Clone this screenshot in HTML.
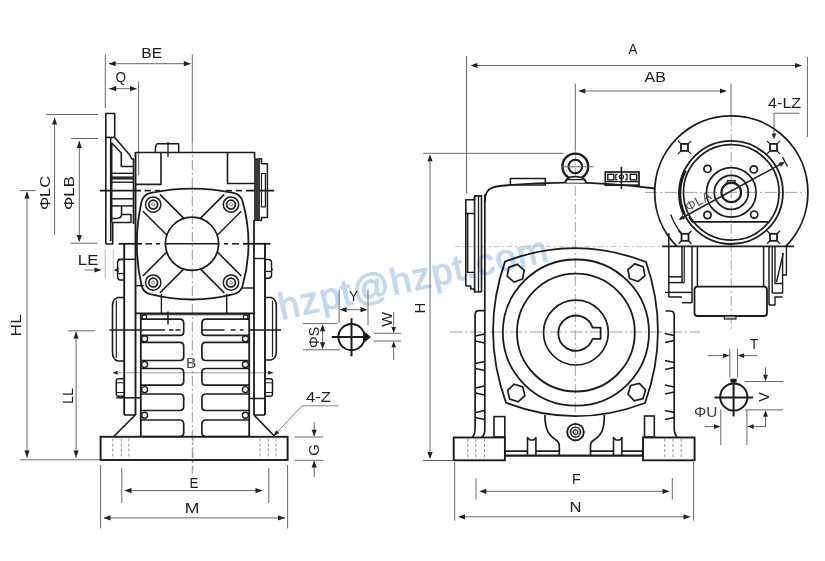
<!DOCTYPE html>
<html><head><meta charset="utf-8"><style>
html,body{margin:0;padding:0;background:#fff;}
svg{display:block;will-change:transform;}
text{font-family:"Liberation Sans", sans-serif;}
</style></head><body>
<svg width="825" height="561" viewBox="0 0 825 561">
<rect width="825" height="561" fill="#ffffff"/>
<text x="281.5" y="319.8" font-size="37" fill="#c2d9f2" stroke="#c2d9f2" stroke-width="1.2" stroke-linejoin="round" textLength="274.4" lengthAdjust="spacing" transform="rotate(-12.4 281.5 319.8)">hzpt@hzpt.com</text>
<line x1="105.3" y1="54.5" x2="105.3" y2="108" stroke="#686868" stroke-width="1.0" />
<line x1="192.3" y1="54.5" x2="192.3" y2="142" stroke="#686868" stroke-width="1.0" />
<line x1="109" y1="63.7" x2="190.5" y2="63.7" stroke="#686868" stroke-width="1.0" />
<path d="M108.60,63.70 L115.60,61.10 L115.60,66.30 Z" fill="#222"/>
<path d="M190.80,63.70 L183.80,66.30 L183.80,61.10 Z" fill="#222"/>
<text x="141.36" y="58.40" font-size="14.50" fill="#1e1e1e" textLength="20.73" lengthAdjust="spacingAndGlyphs" >BE</text>
<line x1="138.6" y1="81.5" x2="138.6" y2="175" stroke="#686868" stroke-width="1.0" />
<line x1="109" y1="88.7" x2="136.5" y2="88.7" stroke="#686868" stroke-width="1.0" />
<path d="M109.20,88.70 L116.20,86.10 L116.20,91.30 Z" fill="#222"/>
<path d="M137.00,88.70 L130.00,91.30 L130.00,86.10 Z" fill="#222"/>
<text x="115.49" y="82.05" font-size="14.50" fill="#1e1e1e" textLength="10.56" lengthAdjust="spacingAndGlyphs" >Q</text>
<line x1="46.4" y1="114.5" x2="98" y2="114.5" stroke="#686868" stroke-width="1.0" />
<line x1="54.6" y1="118" x2="54.6" y2="234.7" stroke="#686868" stroke-width="1.0" />
<path d="M54.60,117.50 L57.20,124.50 L52.00,124.50 Z" fill="#222"/>
<line x1="71" y1="138.5" x2="98" y2="138.5" stroke="#686868" stroke-width="1.0" />
<line x1="79.3" y1="141" x2="79.3" y2="241" stroke="#686868" stroke-width="1.0" />
<path d="M79.30,141.00 L81.90,148.00 L76.70,148.00 Z" fill="#222"/>
<path d="M79.30,242.00 L76.70,235.00 L81.90,235.00 Z" fill="#222"/>
<line x1="70.8" y1="243.2" x2="97.3" y2="243.2" stroke="#686868" stroke-width="1.0" />
<text transform="translate(50.35 210.00) rotate(-90)" x="0" y="0" font-size="15.30" fill="#1e1e1e" textLength="34.08" lengthAdjust="spacingAndGlyphs" >ΦLC</text>
<text transform="translate(74.42 210.02) rotate(-90)" x="0" y="0" font-size="15.30" fill="#1e1e1e" textLength="33.88" lengthAdjust="spacingAndGlyphs" >ΦLB</text>
<text x="77.86" y="264.50" font-size="14.50" fill="#1e1e1e" textLength="20.46" lengthAdjust="spacingAndGlyphs" >LE</text>
<line x1="84.5" y1="270" x2="99" y2="270" stroke="#686868" stroke-width="1.0" />
<path d="M101.50,270.00 L94.50,272.60 L94.50,267.40 Z" fill="#222"/>
<line x1="105.2" y1="249.3" x2="105.2" y2="278" stroke="#aaa" stroke-width="0.9" />
<line x1="113.3" y1="249.3" x2="113.3" y2="278" stroke="#bbb" stroke-width="0.9" />
<path d="M113.60,270.00 L118.60,268.00 L118.60,272.00 Z" fill="#222"/>
<line x1="19.8" y1="190.6" x2="35.5" y2="190.6" stroke="#686868" stroke-width="1.0" />
<line x1="27" y1="192" x2="27" y2="458" stroke="#686868" stroke-width="1.0" />
<path d="M27.00,191.50 L29.60,198.50 L24.40,198.50 Z" fill="#222"/>
<path d="M27.00,457.50 L24.40,450.50 L29.60,450.50 Z" fill="#222"/>
<line x1="20.2" y1="459.8" x2="100" y2="459.8" stroke="#686868" stroke-width="1.0" />
<text transform="translate(20.90 336.39) rotate(-90)" x="0" y="0" font-size="15.30" fill="#1e1e1e" textLength="22.17" lengthAdjust="spacingAndGlyphs" >HL</text>
<line x1="67.6" y1="330.8" x2="94.7" y2="330.8" stroke="#686868" stroke-width="1.0" />
<line x1="76.1" y1="332" x2="76.1" y2="458" stroke="#686868" stroke-width="1.0" />
<path d="M76.10,331.50 L78.70,338.50 L73.50,338.50 Z" fill="#222"/>
<path d="M76.10,457.50 L73.50,450.50 L78.70,450.50 Z" fill="#222"/>
<text transform="translate(72.80 404.04) rotate(-90)" x="0" y="0" font-size="15.30" fill="#1e1e1e" textLength="15.91" lengthAdjust="spacingAndGlyphs" >LL</text>
<line x1="121.8" y1="468" x2="121.8" y2="503" stroke="#686868" stroke-width="1.0" />
<line x1="268.8" y1="468" x2="268.8" y2="503" stroke="#686868" stroke-width="1.0" />
<line x1="125" y1="490.6" x2="262" y2="490.6" stroke="#686868" stroke-width="1.0" />
<path d="M124.50,490.60 L131.50,488.00 L131.50,493.20 Z" fill="#222"/>
<path d="M262.50,490.60 L255.50,493.20 L255.50,488.00 Z" fill="#222"/>
<text x="189.53" y="488.40" font-size="14.50" fill="#1e1e1e" textLength="8.93" lengthAdjust="spacingAndGlyphs" >E</text>
<line x1="100.6" y1="465" x2="100.6" y2="528.5" stroke="#686868" stroke-width="1.0" />
<line x1="287.6" y1="465" x2="287.6" y2="528.5" stroke="#686868" stroke-width="1.0" />
<line x1="104" y1="517.9" x2="285" y2="517.9" stroke="#686868" stroke-width="1.0" />
<path d="M103.50,517.90 L110.50,515.30 L110.50,520.50 Z" fill="#222"/>
<path d="M285.00,517.90 L278.00,520.50 L278.00,515.30 Z" fill="#222"/>
<text x="184.69" y="513.40" font-size="14.50" fill="#1e1e1e" textLength="14.67" lengthAdjust="spacingAndGlyphs" >M</text>
<line x1="294.5" y1="437" x2="323.3" y2="437" stroke="#686868" stroke-width="1.0" />
<line x1="294.5" y1="460.3" x2="323.3" y2="460.3" stroke="#686868" stroke-width="1.0" />
<line x1="314.2" y1="422.4" x2="314.2" y2="436" stroke="#686868" stroke-width="1.0" />
<path d="M314.20,436.80 L311.60,429.80 L316.80,429.80 Z" fill="#222"/>
<line x1="314.2" y1="461" x2="314.2" y2="477" stroke="#686868" stroke-width="1.0" />
<path d="M314.20,460.60 L316.80,467.60 L311.60,467.60 Z" fill="#222"/>
<text transform="translate(318.75 455.75) rotate(-90)" x="0" y="0" font-size="15.30" fill="#1e1e1e" textLength="11.64" lengthAdjust="spacingAndGlyphs" >G</text>
<text x="305.98" y="402.10" font-size="14.50" fill="#1e1e1e" textLength="24.91" lengthAdjust="spacingAndGlyphs" >4-Z</text>
<line x1="302" y1="405.8" x2="338.5" y2="405.8" stroke="#686868" stroke-width="0.8" />
<line x1="302" y1="405.8" x2="275" y2="434.5" stroke="#686868" stroke-width="0.8" />
<path d="M273.50,436.00 L276.19,430.20 L279.30,433.31 Z" fill="#222"/>
<line x1="113" y1="372.8" x2="273" y2="372.8" stroke="#888" stroke-width="0.8" />
<path d="M112.60,372.80 L117.60,370.80 L117.60,374.80 Z" fill="#222"/>
<path d="M273.20,372.80 L268.20,374.80 L268.20,370.80 Z" fill="#222"/>
<text x="185.96" y="367.90" font-size="14.50" fill="#444" textLength="10.35" lengthAdjust="spacingAndGlyphs" >B</text>
<line x1="192.3" y1="142" x2="192.3" y2="474" stroke="#8a8a8a" stroke-width="0.9" stroke-dasharray="10 3 2 3"/>
<line x1="100" y1="190.6" x2="141" y2="190.6" stroke="#1c1c1c" stroke-width="1.8" />
<line x1="144.5" y1="190.6" x2="151" y2="190.6" stroke="#1c1c1c" stroke-width="1.6" />
<line x1="155" y1="190.6" x2="160" y2="190.6" stroke="#1c1c1c" stroke-width="1.6" />
<line x1="226" y1="190.6" x2="232" y2="190.6" stroke="#1c1c1c" stroke-width="1.6" />
<line x1="236" y1="190.6" x2="242" y2="190.6" stroke="#1c1c1c" stroke-width="1.6" />
<line x1="246" y1="190.6" x2="274.2" y2="190.6" stroke="#1c1c1c" stroke-width="1.8" />
<line x1="118.6" y1="243.8" x2="142" y2="243.8" stroke="#1c1c1c" stroke-width="1.8" />
<line x1="145.5" y1="243.8" x2="152" y2="243.8" stroke="#1c1c1c" stroke-width="1.5" />
<line x1="156" y1="243.8" x2="160" y2="243.8" stroke="#1c1c1c" stroke-width="1.5" />
<line x1="164.6" y1="243.8" x2="219.4" y2="243.8" stroke="#1c1c1c" stroke-width="1.6" />
<line x1="224" y1="243.8" x2="228" y2="243.8" stroke="#1c1c1c" stroke-width="1.5" />
<line x1="232" y1="243.8" x2="239" y2="243.8" stroke="#1c1c1c" stroke-width="1.5" />
<line x1="243" y1="243.8" x2="270.4" y2="243.8" stroke="#1c1c1c" stroke-width="1.8" />
<line x1="109.4" y1="330" x2="165" y2="330" stroke="#1c1c1c" stroke-width="1.5" />
<line x1="169" y1="330" x2="173.5" y2="330" stroke="#1c1c1c" stroke-width="1.5" />
<line x1="175.5" y1="330" x2="180.5" y2="330" stroke="#1c1c1c" stroke-width="1.5" />
<line x1="202" y1="330" x2="224.5" y2="330" stroke="#1c1c1c" stroke-width="1.5" />
<line x1="230.8" y1="330" x2="235.5" y2="330" stroke="#1c1c1c" stroke-width="1.5" />
<line x1="240" y1="330" x2="243.5" y2="330" stroke="#1c1c1c" stroke-width="1.5" />
<line x1="249.7" y1="330" x2="281" y2="330" stroke="#1c1c1c" stroke-width="1.5" />
<path d="M105.8,244 V113.5 H114.7 V137.5" stroke="#1c1c1c" stroke-width="1.6" fill="none" stroke-linejoin="round" />
<line x1="110.7" y1="137.5" x2="110.7" y2="241" stroke="#1c1c1c" stroke-width="1.6" />
<line x1="105.8" y1="137.4" x2="114.7" y2="137.4" stroke="#1c1c1c" stroke-width="1.6" />
<path d="M105.8,244 H112.7 V222" stroke="#1c1c1c" stroke-width="1.6" fill="none" stroke-linejoin="round" />
<line x1="111.7" y1="143" x2="111.7" y2="222" stroke="#1c1c1c" stroke-width="1.6" />
<path d="M114.7,137.5 L129.8,155 L131.8,159 L133.5,159 V224" stroke="#1c1c1c" stroke-width="1.6" fill="none" stroke-linejoin="round" />
<path d="M111.7,143 L121.3,153 V166.5 H133.5" stroke="#1c1c1c" stroke-width="1.6" fill="none" stroke-linejoin="round" />
<line x1="111.7" y1="173.3" x2="133.5" y2="173.3" stroke="#1c1c1c" stroke-width="1.4" />
<line x1="111.7" y1="178" x2="133.5" y2="178" stroke="#2a2a2a" stroke-width="3.2" />
<line x1="111.7" y1="182.2" x2="133.5" y2="182.2" stroke="#1c1c1c" stroke-width="1.4" />
<line x1="111.7" y1="198.8" x2="133.5" y2="198.8" stroke="#1c1c1c" stroke-width="1.5" />
<line x1="111.7" y1="205.9" x2="133.5" y2="205.9" stroke="#1c1c1c" stroke-width="1.5" />
<path d="M121.5,206 V214.5 H131 V222.6 H111.7" stroke="#1c1c1c" stroke-width="1.5" fill="none" stroke-linejoin="round" />
<path d="M121.5,214.5 Q121.5,218.4 116.5,218.4 H111.7" stroke="#1c1c1c" stroke-width="1.5" fill="none" stroke-linejoin="round" />
<line x1="135.5" y1="152" x2="135.5" y2="415" stroke="#1c1c1c" stroke-width="1.9" />
<path d="M135.5,152.5 H254.6 V158.8" stroke="#1c1c1c" stroke-width="1.6" fill="none" stroke-linejoin="round" />
<path d="M161,152.5 V184.4 H135.5" stroke="#1c1c1c" stroke-width="1.6" fill="none" stroke-linejoin="round" />
<path d="M227.5,152.5 V183.5 H254.6" stroke="#1c1c1c" stroke-width="1.6" fill="none" stroke-linejoin="round" />
<rect x="254.6" y="158.8" width="4.9" height="61.8" rx="0" stroke="#1c1c1c" stroke-width="0.8" fill="#3a3a3a"/>
<path d="M259.5,158.8 H261.5 V163.7 H267.4 V217.6 H261.5 V220.6 H259.5" stroke="#1c1c1c" stroke-width="1.5" fill="none" stroke-linejoin="round" />
<rect x="261.5" y="173.5" width="3.9" height="33.4" rx="0" stroke="#1c1c1c" stroke-width="1.2" fill="none"/>
<path d="M157,143.7 H178.7 V152.5 M157,143.7 Q155,146 155.5,152.5" stroke="#1c1c1c" stroke-width="1.5" fill="none" stroke-linejoin="round" />
<line x1="168" y1="142" x2="168" y2="157" stroke="#1c1c1c" stroke-width="1.3" />
<line x1="254" y1="220" x2="254" y2="415" stroke="#1c1c1c" stroke-width="1.8" />
<path d="M150.78,192.85 Q192.10,184.35 233.42,192.85 A12,12 0 0 1 242.55,201.35 Q254.45,243.60 242.55,285.85 A12,12 0 0 1 233.93,294.24 Q192.10,304.76 150.27,294.24 A12,12 0 0 1 141.49,285.24 Q132.11,243.60 141.49,201.96 A12,12 0 0 1 150.78,192.85 Z" stroke="#1c1c1c" stroke-width="1.8" fill="none" stroke-linejoin="round" />
<circle cx="192" cy="243.8" r="26.6" stroke="#1c1c1c" stroke-width="1.7" fill="none"/>
<circle cx="153.2" cy="204.6" r="7.7" stroke="#1c1c1c" stroke-width="1.5" fill="none"/>
<circle cx="153.2" cy="204.6" r="4.4" stroke="#1c1c1c" stroke-width="1.7" fill="none"/>
<circle cx="153.2" cy="204.6" r="1.6" stroke="#666" stroke-width="0.8" fill="none"/>
<line x1="142.95" y1="211.32" x2="167.2" y2="235.57" stroke="#1c1c1c" stroke-width="1.5" />
<line x1="159.92" y1="194.35" x2="184.17" y2="218.6" stroke="#1c1c1c" stroke-width="1.5" />
<circle cx="231" cy="204.6" r="7.7" stroke="#1c1c1c" stroke-width="1.5" fill="none"/>
<circle cx="231" cy="204.6" r="4.4" stroke="#1c1c1c" stroke-width="1.7" fill="none"/>
<circle cx="231" cy="204.6" r="1.6" stroke="#666" stroke-width="0.8" fill="none"/>
<line x1="224.28" y1="194.35" x2="200.03" y2="218.6" stroke="#1c1c1c" stroke-width="1.5" />
<line x1="241.25" y1="211.32" x2="217.0" y2="235.57" stroke="#1c1c1c" stroke-width="1.5" />
<circle cx="153.2" cy="282.6" r="7.7" stroke="#1c1c1c" stroke-width="1.5" fill="none"/>
<circle cx="153.2" cy="282.6" r="4.4" stroke="#1c1c1c" stroke-width="1.7" fill="none"/>
<circle cx="153.2" cy="282.6" r="1.6" stroke="#666" stroke-width="0.8" fill="none"/>
<line x1="159.92" y1="292.85" x2="184.17" y2="268.6" stroke="#1c1c1c" stroke-width="1.5" />
<line x1="142.95" y1="275.88" x2="167.2" y2="251.63" stroke="#1c1c1c" stroke-width="1.5" />
<circle cx="231" cy="282.6" r="7.7" stroke="#1c1c1c" stroke-width="1.5" fill="none"/>
<circle cx="231" cy="282.6" r="4.4" stroke="#1c1c1c" stroke-width="1.7" fill="none"/>
<circle cx="231" cy="282.6" r="1.6" stroke="#666" stroke-width="0.8" fill="none"/>
<line x1="241.25" y1="275.88" x2="217.0" y2="251.63" stroke="#1c1c1c" stroke-width="1.5" />
<line x1="224.28" y1="292.85" x2="200.03" y2="268.6" stroke="#1c1c1c" stroke-width="1.5" />
<path d="M124.3,259.6 H120.5 Q117.6,259.6 117.6,263 V267.5 Q117.6,270 116.8,270 Q117.6,270 117.6,272.5 V277 Q117.6,280 120.5,280 H124.3" stroke="#1c1c1c" stroke-width="1.5" fill="none" stroke-linejoin="round" />
<line x1="117.6" y1="273.5" x2="124.3" y2="273.5" stroke="#1c1c1c" stroke-width="1.3" />
<line x1="117.9" y1="259.3" x2="135.5" y2="259.3" stroke="#1c1c1c" stroke-width="1.4" />
<line x1="124.2" y1="243.8" x2="124.2" y2="415" stroke="#1c1c1c" stroke-width="1.9" />
<line x1="135.5" y1="285.7" x2="143.6" y2="285.7" stroke="#1c1c1c" stroke-width="1.4" />
<line x1="161.4" y1="294" x2="161.4" y2="313.3" stroke="#1c1c1c" stroke-width="1.4" />
<line x1="226.7" y1="294" x2="226.7" y2="313.3" stroke="#1c1c1c" stroke-width="1.4" />
<line x1="242" y1="288" x2="254" y2="288" stroke="#1c1c1c" stroke-width="1.4" />
<line x1="135.5" y1="313.3" x2="254" y2="313.3" stroke="#1c1c1c" stroke-width="1.7" />
<line x1="124.2" y1="415" x2="135.5" y2="415" stroke="#1c1c1c" stroke-width="1.6" />
<line x1="265" y1="243.8" x2="265" y2="415" stroke="#1c1c1c" stroke-width="1.9" />
<line x1="254" y1="258.5" x2="265" y2="258.5" stroke="#1c1c1c" stroke-width="1.4" />
<path d="M265,259.4 H268.5 Q271.5,259.4 271.5,263 V267.5 Q271.5,269.5 272.3,269.5 Q271.5,269.5 271.5,271.5 V275 Q271.5,278.2 268.5,278.2 H265" stroke="#1c1c1c" stroke-width="1.5" fill="none" stroke-linejoin="round" />
<line x1="265" y1="271.4" x2="271.5" y2="271.4" stroke="#1c1c1c" stroke-width="1.3" />
<line x1="254" y1="415" x2="265" y2="415" stroke="#1c1c1c" stroke-width="1.6" />
<path d="M124.2,297.5 H118 Q112.5,299 112.5,306 V352 Q112.5,359.5 118,361 H124.2" stroke="#1c1c1c" stroke-width="1.6" fill="none" stroke-linejoin="round" />
<line x1="116.3" y1="300.5" x2="116.3" y2="358" stroke="#1c1c1c" stroke-width="1.2" />
<path d="M265,297.5 H271 Q276.3,299 276.3,306 V352 Q276.3,358.5 271,360 H265" stroke="#1c1c1c" stroke-width="1.6" fill="none" stroke-linejoin="round" />
<line x1="272.5" y1="300.5" x2="272.5" y2="357" stroke="#1c1c1c" stroke-width="1.2" />
<path d="M124.2,378.8 H118.5 Q116.3,378.8 116.3,381 V394 Q116.3,396.3 118.5,396.3 H124.2" stroke="#1c1c1c" stroke-width="1.5" fill="none" stroke-linejoin="round" />
<line x1="116.3" y1="382.8" x2="124.2" y2="382.8" stroke="#1c1c1c" stroke-width="1.0" />
<line x1="116.3" y1="392.5" x2="124.2" y2="392.5" stroke="#1c1c1c" stroke-width="1.0" />
<path d="M265,378.8 H270.3 Q272.5,378.8 272.5,381 V394 Q272.5,396.3 270.3,396.3 H265" stroke="#1c1c1c" stroke-width="1.5" fill="none" stroke-linejoin="round" />
<line x1="265" y1="382.8" x2="272.5" y2="382.8" stroke="#1c1c1c" stroke-width="1.0" />
<line x1="265" y1="392.5" x2="272.5" y2="392.5" stroke="#1c1c1c" stroke-width="1.0" />
<line x1="116.3" y1="397.8" x2="140.8" y2="397.8" stroke="#1c1c1c" stroke-width="1.5" />
<line x1="249.2" y1="398.5" x2="265" y2="398.5" stroke="#1c1c1c" stroke-width="1.5" />
<line x1="140.8" y1="313.3" x2="140.8" y2="437" stroke="#1c1c1c" stroke-width="1.8" />
<line x1="249.2" y1="313.3" x2="249.2" y2="437" stroke="#1c1c1c" stroke-width="1.8" />
<line x1="140.8" y1="314.8" x2="249.2" y2="314.8" stroke="#1c1c1c" stroke-width="1.1" />
<circle cx="144.4" cy="317.2" r="2.3" stroke="#1c1c1c" stroke-width="1.2" fill="none"/>
<circle cx="245.6" cy="317.2" r="2.3" stroke="#1c1c1c" stroke-width="1.2" fill="none"/>
<path d="M140.8,319.2 H179.7 Q183.7,319.2 183.7,323.2 V331.4 Q183.7,335.4 179.7,335.4 H140.8" stroke="#1c1c1c" stroke-width="1.7" fill="none" stroke-linejoin="round" />
<path d="M249.2,319.2 H205.9 Q201.9,319.2 201.9,323.2 V331.4 Q201.9,335.4 205.9,335.4 H249.2" stroke="#1c1c1c" stroke-width="1.7" fill="none" stroke-linejoin="round" />
<path d="M140.8,342.3 H179.7 Q183.7,342.3 183.7,346.3 V356.5 Q183.7,360.5 179.7,360.5 H140.8" stroke="#1c1c1c" stroke-width="1.7" fill="none" stroke-linejoin="round" />
<path d="M249.2,342.3 H205.9 Q201.9,342.3 201.9,346.3 V356.5 Q201.9,360.5 205.9,360.5 H249.2" stroke="#1c1c1c" stroke-width="1.7" fill="none" stroke-linejoin="round" />
<path d="M140.8,368.5 H179.7 Q183.7,368.5 183.7,372.5 V381.2 Q183.7,385.2 179.7,385.2 H140.8" stroke="#1c1c1c" stroke-width="1.7" fill="none" stroke-linejoin="round" />
<path d="M249.2,368.5 H205.9 Q201.9,368.5 201.9,372.5 V381.2 Q201.9,385.2 205.9,385.2 H249.2" stroke="#1c1c1c" stroke-width="1.7" fill="none" stroke-linejoin="round" />
<path d="M140.8,394 H179.7 Q183.7,394 183.7,398 V406.5 Q183.7,410.5 179.7,410.5 H140.8" stroke="#1c1c1c" stroke-width="1.7" fill="none" stroke-linejoin="round" />
<path d="M249.2,394 H205.9 Q201.9,394 201.9,398 V406.5 Q201.9,410.5 205.9,410.5 H249.2" stroke="#1c1c1c" stroke-width="1.7" fill="none" stroke-linejoin="round" />
<path d="M140.8,420 H179.7 Q183.7,420 183.7,424 V432.5 Q183.7,436.5 179.7,436.5 H140.8" stroke="#1c1c1c" stroke-width="1.7" fill="none" stroke-linejoin="round" />
<path d="M249.2,420 H205.9 Q201.9,420 201.9,424 V432.5 Q201.9,436.5 205.9,436.5 H249.2" stroke="#1c1c1c" stroke-width="1.7" fill="none" stroke-linejoin="round" />
<circle cx="144.6" cy="338.7" r="3.0" stroke="#1c1c1c" stroke-width="1.4" fill="none"/>
<circle cx="245.4" cy="338.7" r="3.0" stroke="#1c1c1c" stroke-width="1.4" fill="none"/>
<circle cx="144.6" cy="364.5" r="3.0" stroke="#1c1c1c" stroke-width="1.4" fill="none"/>
<circle cx="245.4" cy="364.5" r="3.0" stroke="#1c1c1c" stroke-width="1.4" fill="none"/>
<circle cx="144.6" cy="389.6" r="3.0" stroke="#1c1c1c" stroke-width="1.4" fill="none"/>
<circle cx="245.4" cy="389.6" r="3.0" stroke="#1c1c1c" stroke-width="1.4" fill="none"/>
<circle cx="144.6" cy="415.2" r="3.0" stroke="#1c1c1c" stroke-width="1.4" fill="none"/>
<circle cx="245.4" cy="415.2" r="3.0" stroke="#1c1c1c" stroke-width="1.4" fill="none"/>
<line x1="168" y1="311.5" x2="168" y2="324.5" stroke="#1c1c1c" stroke-width="1.4" />
<line x1="135.2" y1="415" x2="113.7" y2="436.5" stroke="#1c1c1c" stroke-width="1.7" />
<line x1="254" y1="415" x2="274.8" y2="436.5" stroke="#1c1c1c" stroke-width="1.7" />
<rect x="100.6" y="436.8" width="187" height="23.2" rx="0" stroke="#1c1c1c" stroke-width="1.9" fill="none"/>
<line x1="112.8" y1="438.5" x2="112.8" y2="458.5" stroke="#888" stroke-width="0.9" stroke-dasharray="3 2"/>
<line x1="121.3" y1="438.5" x2="121.3" y2="458.5" stroke="#888" stroke-width="0.9" stroke-dasharray="3 2"/>
<line x1="128.9" y1="438.5" x2="128.9" y2="458.5" stroke="#888" stroke-width="0.9" stroke-dasharray="3 2"/>
<line x1="260" y1="438.5" x2="260" y2="458.5" stroke="#888" stroke-width="0.9" stroke-dasharray="3 2"/>
<line x1="268.3" y1="438.5" x2="268.3" y2="458.5" stroke="#888" stroke-width="0.9" stroke-dasharray="3 2"/>
<line x1="276" y1="438.5" x2="276" y2="458.5" stroke="#888" stroke-width="0.9" stroke-dasharray="3 2"/>
<line x1="193" y1="438" x2="193" y2="470" stroke="#888" stroke-width="0.8" stroke-dasharray="6 3 2 3"/>
<line x1="339.1" y1="289.6" x2="339.1" y2="323.3" stroke="#686868" stroke-width="1.0" />
<line x1="368" y1="289.6" x2="368" y2="325" stroke="#686868" stroke-width="1.0" />
<line x1="343" y1="309.7" x2="364" y2="309.7" stroke="#686868" stroke-width="1.0" />
<path d="M339.60,309.70 L346.60,307.10 L346.60,312.30 Z" fill="#222"/>
<path d="M367.50,309.70 L360.50,312.30 L360.50,307.10 Z" fill="#222"/>
<text x="348.96" y="300.60" font-size="14.50" fill="#1e1e1e" textLength="9.14" lengthAdjust="spacingAndGlyphs" >Y</text>
<line x1="303" y1="323.6" x2="337.5" y2="323.6" stroke="#686868" stroke-width="1.0" />
<line x1="303" y1="349.8" x2="340" y2="349.8" stroke="#686868" stroke-width="1.0" />
<line x1="322.6" y1="326" x2="322.6" y2="347.5" stroke="#686868" stroke-width="1.0" />
<path d="M322.60,324.20 L325.20,331.20 L320.00,331.20 Z" fill="#222"/>
<path d="M322.60,349.20 L320.00,342.20 L325.20,342.20 Z" fill="#222"/>
<text transform="translate(318.65 348.11) rotate(-90)" x="0" y="0" font-size="15.30" fill="#1e1e1e" textLength="21.46" lengthAdjust="spacingAndGlyphs" >ΦS</text>
<circle cx="351.5" cy="337.1" r="13.1" stroke="#1c1c1c" stroke-width="2.0" fill="none"/>
<line x1="331.8" y1="337" x2="369" y2="337" stroke="#1c1c1c" stroke-width="2.0" />
<line x1="351.5" y1="318.2" x2="351.5" y2="356.4" stroke="#1c1c1c" stroke-width="2.0" />
<path d="M363.6,331.5 L370.5,337 L363.6,342.6 Z" stroke="#1c1c1c" stroke-width="0.8" fill="#1c1c1c" stroke-linejoin="round" />
<line x1="373.6" y1="333.3" x2="400.9" y2="333.3" stroke="#686868" stroke-width="1.0" />
<line x1="373.6" y1="341" x2="400.9" y2="341" stroke="#686868" stroke-width="1.0" />
<line x1="393.7" y1="312" x2="393.7" y2="327" stroke="#686868" stroke-width="1.0" />
<path d="M393.70,333.00 L391.40,327.00 L396.00,327.00 Z" fill="#222"/>
<line x1="393.7" y1="347" x2="393.7" y2="360" stroke="#686868" stroke-width="1.0" />
<path d="M393.70,341.30 L396.00,347.30 L391.40,347.30 Z" fill="#222"/>
<text transform="translate(391.50 326.78) rotate(-90)" x="0" y="0" font-size="15.30" fill="#1e1e1e" textLength="14.74" lengthAdjust="spacingAndGlyphs" >W</text>
<circle cx="733.8" cy="397" r="13.6" stroke="#1c1c1c" stroke-width="2.0" fill="none"/>
<line x1="714.5" y1="397.6" x2="753.1" y2="397.6" stroke="#1c1c1c" stroke-width="2.0" />
<line x1="733.6" y1="379.1" x2="733.6" y2="416.4" stroke="#1c1c1c" stroke-width="2.0" />
<rect x="731" y="379.3" width="5" height="2.5" rx="0" stroke="#1c1c1c" stroke-width="1.2" fill="#1c1c1c"/>
<line x1="729.8" y1="348.7" x2="729.8" y2="377.2" stroke="#686868" stroke-width="1.0" />
<line x1="737.5" y1="348.7" x2="737.5" y2="377.2" stroke="#686868" stroke-width="1.0" />
<line x1="707.6" y1="355.6" x2="723" y2="355.6" stroke="#686868" stroke-width="1.0" />
<path d="M729.60,355.60 L723.10,358.00 L723.10,353.20 Z" fill="#222"/>
<line x1="744" y1="355.6" x2="757.6" y2="355.6" stroke="#686868" stroke-width="1.0" />
<path d="M737.70,355.60 L744.20,353.20 L744.20,358.00 Z" fill="#222"/>
<text x="750.06" y="349.10" font-size="14.50" fill="#1e1e1e" textLength="8.22" lengthAdjust="spacingAndGlyphs" >T</text>
<line x1="744.9" y1="381.5" x2="783.1" y2="381.5" stroke="#686868" stroke-width="1.0" />
<line x1="744.9" y1="409.9" x2="783.1" y2="409.9" stroke="#686868" stroke-width="1.0" />
<line x1="765.5" y1="367.4" x2="765.5" y2="375" stroke="#686868" stroke-width="1.0" />
<path d="M765.50,381.20 L763.10,374.70 L767.90,374.70 Z" fill="#222"/>
<line x1="765.5" y1="416" x2="765.5" y2="427.2" stroke="#686868" stroke-width="1.0" />
<path d="M765.50,410.20 L767.90,416.70 L763.10,416.70 Z" fill="#222"/>
<text transform="translate(769.00 401.67) rotate(-90)" x="0" y="0" font-size="15.30" fill="#1e1e1e" textLength="9.47" lengthAdjust="spacingAndGlyphs" >V</text>
<line x1="720.8" y1="409.5" x2="720.8" y2="445" stroke="#686868" stroke-width="1.0" />
<line x1="746.9" y1="409.5" x2="746.9" y2="445" stroke="#686868" stroke-width="1.0" />
<line x1="704.7" y1="426.6" x2="714" y2="426.6" stroke="#686868" stroke-width="1.0" />
<path d="M720.50,426.60 L714.00,429.00 L714.00,424.20 Z" fill="#222"/>
<line x1="753.5" y1="426.6" x2="765.5" y2="426.6" stroke="#686868" stroke-width="1.0" />
<path d="M747.20,426.60 L753.70,424.20 L753.70,429.00 Z" fill="#222"/>
<text x="693.95" y="417.15" font-size="14.50" fill="#3a3a3a" textLength="23.40" lengthAdjust="spacingAndGlyphs" >ΦU</text>
<line x1="466.5" y1="55.8" x2="466.5" y2="193.5" stroke="#686868" stroke-width="1.0" />
<line x1="807.4" y1="57" x2="807.4" y2="137" stroke="#686868" stroke-width="1.0" />
<line x1="472" y1="65.5" x2="800" y2="65.5" stroke="#686868" stroke-width="1.0" />
<path d="M470.40,65.50 L477.40,62.90 L477.40,68.10 Z" fill="#222"/>
<path d="M802.00,65.50 L795.00,68.10 L795.00,62.90 Z" fill="#222"/>
<text x="628.53" y="54.40" font-size="14.50" fill="#1e1e1e" textLength="8.89" lengthAdjust="spacingAndGlyphs" >A</text>
<line x1="575.3" y1="83.6" x2="575.3" y2="150" stroke="#686868" stroke-width="1.0" />
<line x1="580" y1="91" x2="725" y2="91" stroke="#686868" stroke-width="1.0" />
<path d="M578.30,91.00 L585.30,88.40 L585.30,93.60 Z" fill="#222"/>
<path d="M727.00,91.00 L720.00,93.60 L720.00,88.40 Z" fill="#222"/>
<line x1="731" y1="83.6" x2="731" y2="116" stroke="#686868" stroke-width="1.0" />
<text x="644.62" y="82.30" font-size="14.50" fill="#1e1e1e" textLength="21.24" lengthAdjust="spacingAndGlyphs" >AB</text>
<text x="768.10" y="107.80" font-size="14.50" fill="#1e1e1e" textLength="33.11" lengthAdjust="spacingAndGlyphs" >4-LZ</text>
<line x1="774" y1="113.2" x2="799.4" y2="113.2" stroke="#686868" stroke-width="1.0" />
<line x1="774" y1="113.2" x2="774" y2="134" stroke="#686868" stroke-width="1.0" />
<path d="M774.00,139.60 L771.70,133.60 L776.30,133.60 Z" fill="#222"/>
<line x1="423.2" y1="153.3" x2="563.5" y2="153.3" stroke="#686868" stroke-width="1.0" />
<line x1="430" y1="156" x2="430" y2="458" stroke="#686868" stroke-width="1.0" />
<path d="M430.00,154.30 L432.60,161.30 L427.40,161.30 Z" fill="#222"/>
<path d="M430.00,459.00 L427.40,452.00 L432.60,452.00 Z" fill="#222"/>
<line x1="423" y1="460.5" x2="454" y2="460.5" stroke="#686868" stroke-width="1.0" />
<text transform="translate(425.40 313.50) rotate(-90)" x="0" y="0" font-size="15.30" fill="#1e1e1e" textLength="10.83" lengthAdjust="spacingAndGlyphs" >H</text>
<line x1="476" y1="478" x2="476" y2="499.4" stroke="#686868" stroke-width="1.0" />
<line x1="672.3" y1="478" x2="672.3" y2="499.4" stroke="#686868" stroke-width="1.0" />
<line x1="481" y1="491.3" x2="668" y2="491.3" stroke="#686868" stroke-width="1.0" />
<path d="M479.30,491.30 L486.30,488.70 L486.30,493.90 Z" fill="#222"/>
<path d="M669.50,491.30 L662.50,493.90 L662.50,488.70 Z" fill="#222"/>
<text x="571.96" y="484.10" font-size="14.50" fill="#1e1e1e" textLength="8.73" lengthAdjust="spacingAndGlyphs" >F</text>
<line x1="454.7" y1="462" x2="454.7" y2="520.7" stroke="#686868" stroke-width="1.0" />
<line x1="693.6" y1="462" x2="693.6" y2="520.7" stroke="#686868" stroke-width="1.0" />
<line x1="460" y1="516.8" x2="689" y2="516.8" stroke="#686868" stroke-width="1.0" />
<path d="M458.00,516.80 L465.00,514.20 L465.00,519.40 Z" fill="#222"/>
<path d="M690.50,516.80 L683.50,519.40 L683.50,514.20 Z" fill="#222"/>
<text x="569.47" y="511.90" font-size="14.50" fill="#1e1e1e" textLength="11.99" lengthAdjust="spacingAndGlyphs" >N</text>
<line x1="575.3" y1="150" x2="575.3" y2="452" stroke="#9a9a9a" stroke-width="0.9" stroke-dasharray="10 3 2 3"/>
<line x1="731.2" y1="116" x2="731.2" y2="330" stroke="#9a9a9a" stroke-width="0.9" stroke-dasharray="10 3 2 3"/>
<line x1="455" y1="246.6" x2="662" y2="246.6" stroke="#bbb" stroke-width="0.9" stroke-dasharray="5 3 2 3"/>
<line x1="450" y1="332" x2="700" y2="332" stroke="#999" stroke-width="0.9" stroke-dasharray="12 3 2 3"/>
<line x1="645" y1="192.4" x2="806" y2="192.4" stroke="#999" stroke-width="0.9" stroke-dasharray="12 3 2 3"/>
<path d="M465.8,286 V199.8 H474.6 V195.9 H481.5 V292" stroke="#1c1c1c" stroke-width="1.6" fill="none" stroke-linejoin="round" />
<path d="M465.8,286 H470.7 V289 H474.6 V292 H481.5" stroke="#1c1c1c" stroke-width="1.6" fill="none" stroke-linejoin="round" />
<line x1="474.6" y1="195.9" x2="474.6" y2="292" stroke="#1c1c1c" stroke-width="1.6" />
<line x1="478.5" y1="195.9" x2="478.5" y2="292" stroke="#1c1c1c" stroke-width="1.3" />
<line x1="465.8" y1="213.5" x2="474.6" y2="213.5" stroke="#1c1c1c" stroke-width="1.5" />
<path d="M467.7,213.5 V272.4 H474.6" stroke="#1c1c1c" stroke-width="1.4" fill="none" stroke-linejoin="round" />
<path d="M484.8,194.6 V430 Q484.8,435 481.5,437.5" stroke="#1c1c1c" stroke-width="1.7" fill="none" stroke-linejoin="round" />
<path d="M484.8,202 C484.8,190 490,187 500,186 Q575,178 655,188.5" stroke="#1c1c1c" stroke-width="1.8" fill="none" stroke-linejoin="round" />
<rect x="510.4" y="178.5" width="34.9" height="6.5" rx="0" stroke="#1c1c1c" stroke-width="1.5" fill="none"/>
<circle cx="575.3" cy="166.5" r="12.9" stroke="#1c1c1c" stroke-width="2.4" fill="none"/>
<circle cx="575.3" cy="166.5" r="6.8" stroke="#1c1c1c" stroke-width="2.0" fill="none"/>
<path d="M565.3,182.8 Q566,176.6 575.3,176.6 Q585,176.6 586,182.8" stroke="#1c1c1c" stroke-width="1.9" fill="#fff" stroke-linejoin="round" />
<line x1="566" y1="179.6" x2="585.3" y2="179.6" stroke="#1c1c1c" stroke-width="1.3" />
<line x1="561" y1="166.8" x2="593.5" y2="166.8" stroke="#686868" stroke-width="1.0" />
<rect x="605.3" y="172" width="33.7" height="13.2" rx="0" stroke="#1c1c1c" stroke-width="1.7" fill="none"/>
<line x1="605.3" y1="181.6" x2="639" y2="181.6" stroke="#1c1c1c" stroke-width="1.3" />
<rect x="607.8" y="174.3" width="6" height="5.6" rx="0" stroke="#1c1c1c" stroke-width="1.4" fill="none"/>
<rect x="630.3" y="174.3" width="6.4" height="5.6" rx="0" stroke="#1c1c1c" stroke-width="1.4" fill="none"/>
<path d="M617.5,174.3 H615.8 V179.8 H617.5 M625.3,174.3 H627 V179.8 H625.3" stroke="#1c1c1c" stroke-width="1.3" fill="none" stroke-linejoin="round" />
<circle cx="621.4" cy="176.8" r="2.0" stroke="#1c1c1c" stroke-width="1.3" fill="none"/>
<line x1="621.4" y1="166.8" x2="621.4" y2="188.8" stroke="#1c1c1c" stroke-width="1.6" />
<circle cx="575.9" cy="332.6" r="73.1" stroke="#1c1c1c" stroke-width="1.8" fill="none"/>
<circle cx="575.9" cy="332.6" r="58.9" stroke="#1c1c1c" stroke-width="1.8" fill="none"/>
<circle cx="575.9" cy="332.6" r="32.4" stroke="#1c1c1c" stroke-width="1.7" fill="none"/>
<path d="M592.59,327.6 H600.6 V338.8 H592.59 A17.6 17.6 0 1 1 592.59,327.6 Z" stroke="#1c1c1c" stroke-width="1.8" fill="none" stroke-linejoin="round" />
<path d="M505,261.6 Q575.3,234.5 646,262 Q670.4,332.4 645,403 Q575.3,429.5 506,402.7 Q480.6,332.4 505,261.6 Z" stroke="#1c1c1c" stroke-width="1.8" fill="none" stroke-linejoin="round" />
<polygon points="522.59,278.99 514.14,282.06 507.24,276.28 508.81,267.41 517.26,264.34 524.16,270.12" stroke="#1c1c1c" stroke-width="1.7" fill="none"/>
<polygon points="644.86,275.78 637.96,281.56 629.51,278.49 627.94,269.62 634.84,263.84 643.29,266.91" stroke="#1c1c1c" stroke-width="1.7" fill="none"/>
<polygon points="524.81,395.63 518.22,401.77 509.62,399.14 507.59,390.37 514.18,384.23 522.78,386.86" stroke="#1c1c1c" stroke-width="1.7" fill="none"/>
<polygon points="642.94,398.68 634.17,400.71 628.03,394.12 630.66,385.52 639.43,383.49 645.57,390.08" stroke="#1c1c1c" stroke-width="1.7" fill="none"/>
<path d="M472.5,437 Q475.1,434 475.1,428 V315 Q475.1,310.7 479,310.7 H484" stroke="#1c1c1c" stroke-width="1.7" fill="none" stroke-linejoin="round" />
<line x1="475.5" y1="336.0" x2="484.5" y2="333.9" stroke="#1c1c1c" stroke-width="1.5" />
<line x1="475.5" y1="341.0" x2="484.5" y2="343.1" stroke="#1c1c1c" stroke-width="1.5" />
<line x1="475.5" y1="363.5" x2="484.5" y2="361.4" stroke="#1c1c1c" stroke-width="1.5" />
<line x1="475.5" y1="368.5" x2="484.5" y2="370.6" stroke="#1c1c1c" stroke-width="1.5" />
<line x1="475.5" y1="388.0" x2="484.5" y2="385.9" stroke="#1c1c1c" stroke-width="1.5" />
<line x1="475.5" y1="393.0" x2="484.5" y2="395.1" stroke="#1c1c1c" stroke-width="1.5" />
<line x1="475.5" y1="412.5" x2="484.5" y2="410.4" stroke="#1c1c1c" stroke-width="1.5" />
<line x1="475.5" y1="417.5" x2="484.5" y2="419.6" stroke="#1c1c1c" stroke-width="1.5" />
<path d="M677,437 Q674.2,434 674.2,428 V315 Q674.2,311 670,311 H665.5" stroke="#1c1c1c" stroke-width="1.7" fill="none" stroke-linejoin="round" />
<line x1="665" y1="333.4" x2="674" y2="335.5" stroke="#1c1c1c" stroke-width="1.5" />
<line x1="665" y1="342.6" x2="674" y2="340.5" stroke="#1c1c1c" stroke-width="1.5" />
<line x1="665" y1="360.4" x2="674" y2="362.5" stroke="#1c1c1c" stroke-width="1.5" />
<line x1="665" y1="369.6" x2="674" y2="367.5" stroke="#1c1c1c" stroke-width="1.5" />
<line x1="665" y1="384.9" x2="674" y2="387.0" stroke="#1c1c1c" stroke-width="1.5" />
<line x1="665" y1="394.1" x2="674" y2="392.0" stroke="#1c1c1c" stroke-width="1.5" />
<line x1="665" y1="410.4" x2="674" y2="412.5" stroke="#1c1c1c" stroke-width="1.5" />
<line x1="665" y1="419.6" x2="674" y2="417.5" stroke="#1c1c1c" stroke-width="1.5" />
<rect x="494" y="416.6" width="10.8" height="20.4" rx="0" stroke="#1c1c1c" stroke-width="1.6" fill="none"/>
<rect x="644.5" y="416" width="9.8" height="21" rx="0" stroke="#1c1c1c" stroke-width="1.6" fill="none"/>
<rect x="453.7" y="437.5" width="51.2" height="22.8" rx="0" stroke="#1c1c1c" stroke-width="1.9" fill="none"/>
<rect x="643" y="437.5" width="51.6" height="22.8" rx="0" stroke="#1c1c1c" stroke-width="1.9" fill="none"/>
<line x1="504.9" y1="451.1" x2="643" y2="451.1" stroke="#1c1c1c" stroke-width="1.6" />
<line x1="504.9" y1="455.6" x2="643" y2="455.6" stroke="#1c1c1c" stroke-width="2.4" />
<line x1="467.8" y1="439" x2="467.8" y2="458.5" stroke="#888" stroke-width="0.9" stroke-dasharray="3 2"/>
<line x1="475.8" y1="439" x2="475.8" y2="458.5" stroke="#888" stroke-width="0.9" stroke-dasharray="3 2"/>
<line x1="484.5" y1="439" x2="484.5" y2="458.5" stroke="#888" stroke-width="0.9" stroke-dasharray="3 2"/>
<line x1="664.8" y1="439" x2="664.8" y2="458.5" stroke="#888" stroke-width="0.9" stroke-dasharray="3 2"/>
<line x1="673" y1="439" x2="673" y2="458.5" stroke="#888" stroke-width="0.9" stroke-dasharray="3 2"/>
<line x1="681.2" y1="439" x2="681.2" y2="458.5" stroke="#888" stroke-width="0.9" stroke-dasharray="3 2"/>
<rect x="527.5" y="437.5" width="8.4" height="16" fill="#fff"/>
<path d="M527.5,455.6 V437.5 L530.0,440 H533.7 L535.9,437.5 V455.6" stroke="#1c1c1c" stroke-width="1.6" fill="none" stroke-linejoin="round" />
<rect x="613.5" y="437.5" width="8.4" height="16" fill="#fff"/>
<path d="M613.5,455.6 V437.5 L616.0,440 H619.7 L621.9,437.5 V455.6" stroke="#1c1c1c" stroke-width="1.6" fill="none" stroke-linejoin="round" />
<path d="M545.2,420 C545.5,432 550,436 556,440 Q559.3,442 559.3,446 V453.5 H590.5 V446 Q590.5,442 594,440 C600,436 604.3,432 604.3,420 Z" fill="#fff" stroke="none"/>
<path d="M544.9,415 C545,432 550,436 556,440 Q559.3,442 559.3,446 V455.6 M604.3,415 C604.5,432 600,436 594,440 Q590.5,442 590.5,446 V455.6" stroke="#1c1c1c" stroke-width="1.7" fill="none" stroke-linejoin="round" />
<line x1="565" y1="432.1" x2="586" y2="432.1" stroke="#999" stroke-width="0.6" />
<line x1="575.5" y1="422" x2="575.5" y2="442" stroke="#999" stroke-width="0.6" />
<circle cx="575.5" cy="432.1" r="8.3" stroke="#1c1c1c" stroke-width="1.8" fill="none"/>
<circle cx="575.5" cy="432.1" r="5.0" stroke="#1c1c1c" stroke-width="1.4" fill="none"/>
<circle cx="575.5" cy="432.1" r="2.4" stroke="#1c1c1c" stroke-width="1.1" fill="none"/>
<clipPath id="mc"><rect x="640" y="100" width="190" height="146"/></clipPath>
<circle cx="731.3" cy="192.4" r="76.6" stroke="#1c1c1c" stroke-width="1.8" fill="none" clip-path="url(#mc)"/>
<circle cx="731.3" cy="192.4" r="51.6" stroke="#1c1c1c" stroke-width="1.8" fill="none"/>
<circle cx="731.3" cy="192.4" r="47.8" stroke="#1c1c1c" stroke-width="1.7" fill="none"/>
<circle cx="731.3" cy="192.4" r="24.8" stroke="#1c1c1c" stroke-width="1.7" fill="none"/>
<circle cx="731.3" cy="192.4" r="17" stroke="#1c1c1c" stroke-width="1.7" fill="none"/>
<circle cx="731.3" cy="192.4" r="9.8" stroke="#1c1c1c" stroke-width="2.2" fill="none"/>
<circle cx="707.5" cy="168.9" r="3.6" stroke="#1c1c1c" stroke-width="1.7" fill="none"/>
<circle cx="753.8" cy="169.4" r="3.6" stroke="#1c1c1c" stroke-width="1.7" fill="none"/>
<circle cx="707.5" cy="215" r="3.6" stroke="#1c1c1c" stroke-width="1.7" fill="none"/>
<circle cx="754.2" cy="214.6" r="3.6" stroke="#1c1c1c" stroke-width="1.7" fill="none"/>
<rect x="681.0" y="143.9" width="7" height="7" rx="0" stroke="#1c1c1c" stroke-width="1.8" fill="none"/>
<line x1="678.0" y1="140.9" x2="681.0" y2="143.9" stroke="#1c1c1c" stroke-width="1.3" />
<line x1="691.0" y1="140.9" x2="688.0" y2="143.9" stroke="#1c1c1c" stroke-width="1.3" />
<line x1="678.0" y1="153.9" x2="681.0" y2="150.9" stroke="#1c1c1c" stroke-width="1.3" />
<line x1="691.0" y1="153.9" x2="688.0" y2="150.9" stroke="#1c1c1c" stroke-width="1.3" />
<rect x="770.0" y="143.9" width="7" height="7" rx="0" stroke="#1c1c1c" stroke-width="1.8" fill="none"/>
<line x1="767.0" y1="140.9" x2="770.0" y2="143.9" stroke="#1c1c1c" stroke-width="1.3" />
<line x1="780.0" y1="140.9" x2="777.0" y2="143.9" stroke="#1c1c1c" stroke-width="1.3" />
<line x1="767.0" y1="153.9" x2="770.0" y2="150.9" stroke="#1c1c1c" stroke-width="1.3" />
<line x1="780.0" y1="153.9" x2="777.0" y2="150.9" stroke="#1c1c1c" stroke-width="1.3" />
<rect x="681.5" y="233.8" width="7" height="7" rx="0" stroke="#1c1c1c" stroke-width="1.8" fill="none"/>
<line x1="678.5" y1="230.8" x2="681.5" y2="233.8" stroke="#1c1c1c" stroke-width="1.3" />
<line x1="691.5" y1="230.8" x2="688.5" y2="233.8" stroke="#1c1c1c" stroke-width="1.3" />
<line x1="678.5" y1="243.8" x2="681.5" y2="240.8" stroke="#1c1c1c" stroke-width="1.3" />
<line x1="691.5" y1="243.8" x2="688.5" y2="240.8" stroke="#1c1c1c" stroke-width="1.3" />
<rect x="770.0" y="233.8" width="7" height="7" rx="0" stroke="#1c1c1c" stroke-width="1.8" fill="none"/>
<line x1="767.0" y1="230.8" x2="770.0" y2="233.8" stroke="#1c1c1c" stroke-width="1.3" />
<line x1="780.0" y1="230.8" x2="777.0" y2="233.8" stroke="#1c1c1c" stroke-width="1.3" />
<line x1="767.0" y1="243.8" x2="770.0" y2="240.8" stroke="#1c1c1c" stroke-width="1.3" />
<line x1="780.0" y1="243.8" x2="777.0" y2="240.8" stroke="#1c1c1c" stroke-width="1.3" />
<path d="M685.2,170.5 A50.5,50.5 0 0 0 684.2,214.5" stroke="#1c1c1c" stroke-width="3.2" fill="none" stroke-linejoin="round" />
<path d="M670.7,214.5 A64.5,64.5 0 0 0 681.9,233.9" stroke="#1c1c1c" stroke-width="1.3" fill="none" stroke-linejoin="round" />
<path d="M689,217 L692.3,221.8 H769" stroke="#1c1c1c" stroke-width="1.8" fill="none" stroke-linejoin="round" />
<line x1="680" y1="219" x2="783.5" y2="162.6" stroke="#222" stroke-width="1.5" />
<path d="M678.50,219.80 L682.67,214.91 L684.87,218.95 Z" fill="#222"/>
<path d="M785.00,161.80 L780.83,166.69 L778.63,162.65 Z" fill="#222"/>
<line x1="782.4" y1="157" x2="787.6" y2="166.6" stroke="#1c1c1c" stroke-width="1.3" />
<path d="M727.5,183 V180.6 H735 V183" stroke="#1c1c1c" stroke-width="1.4" fill="none" stroke-linejoin="round" />
<text x="700.5" y="205" font-size="13" text-anchor="middle" fill="#555" transform="rotate(-29 700.5 205)" letter-spacing="0.6">ΦLA</text>
<line x1="662.1" y1="246.4" x2="794" y2="246.4" stroke="#1c1c1c" stroke-width="1.9" />
<line x1="668.8" y1="233" x2="668.8" y2="297" stroke="#1c1c1c" stroke-width="1.5" />
<line x1="682" y1="246.4" x2="682" y2="282.6" stroke="#1c1c1c" stroke-width="1.5" />
<line x1="684.2" y1="246.4" x2="684.2" y2="282.6" stroke="#1c1c1c" stroke-width="1.2" />
<line x1="668.8" y1="276.8" x2="682" y2="276.8" stroke="#1c1c1c" stroke-width="1.5" />
<line x1="668.8" y1="282.6" x2="684.2" y2="282.6" stroke="#1c1c1c" stroke-width="1.5" />
<line x1="665" y1="292.4" x2="692" y2="292.4" stroke="#1c1c1c" stroke-width="1.5" />
<line x1="668.8" y1="297" x2="682" y2="297" stroke="#1c1c1c" stroke-width="1.5" />
<line x1="682" y1="302.7" x2="692" y2="302.7" stroke="#1c1c1c" stroke-width="1.5" />
<line x1="692" y1="246.4" x2="692" y2="302.7" stroke="#1c1c1c" stroke-width="1.5" />
<line x1="697.4" y1="246.4" x2="697.4" y2="287" stroke="#1c1c1c" stroke-width="1.5" />
<line x1="763.6" y1="246.4" x2="763.6" y2="287" stroke="#1c1c1c" stroke-width="1.5" />
<line x1="769" y1="246.4" x2="769" y2="305" stroke="#1c1c1c" stroke-width="1.5" />
<line x1="772.2" y1="246.4" x2="772.2" y2="293" stroke="#1c1c1c" stroke-width="1.4" />
<path d="M775,246.4 V283.5 H782.6" stroke="#1c1c1c" stroke-width="1.4" fill="none" stroke-linejoin="round" />
<path d="M782.6,253 V293 H772.2" stroke="#1c1c1c" stroke-width="1.4" fill="none" stroke-linejoin="round" />
<line x1="776.5" y1="282" x2="783.3" y2="253.2" stroke="#1c1c1c" stroke-width="1.4" />
<path d="M786.4,246.4 V275 H782.6" stroke="#1c1c1c" stroke-width="1.4" fill="none" stroke-linejoin="round" />
<path d="M782.6,297 H775 V305 H769" stroke="#1c1c1c" stroke-width="1.4" fill="none" stroke-linejoin="round" />
<rect x="694.5" y="286.7" width="72.5" height="29.3" rx="3" stroke="#1c1c1c" stroke-width="1.8" fill="none"/>
<rect x="724.3" y="316" width="11.7" height="3" rx="0" stroke="#1c1c1c" stroke-width="1.2" fill="#ccc"/>
</svg></body></html>
